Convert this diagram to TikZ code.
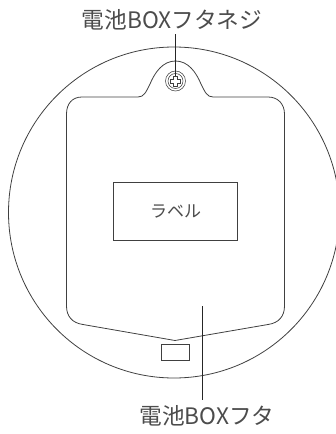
\documentclass[tikz,border=0pt]{standalone}
\usepackage{fontspec}
\setmainfont{Noto Sans CJK JP}
\definecolor{ink}{gray}{0.25}
\definecolor{txt}{gray}{0.3}
\tikzset{
  outline/.style={draw=ink,line width=0.8pt},
  thin outline/.style={draw=ink,line width=0.55pt},
  leader/.style={draw=black!85,line width=0.8pt},
  lbl/.style={inner sep=0pt,text=txt,font=\fontsize{22.7}{22.7}\selectfont},
}
\begin{document}
\begin{tikzpicture}[x=1pt,y=-1pt]
\useasboundingbox (0,0) rectangle (336,434);
\begin{scope}
\clip (0,0) rectangle (336,434);
\draw[outline] (174,212.5) circle[radius=165.5];
\end{scope}
% cover
\draw[outline,line join=round] (82,97) -- (138,97)
  .. controls (144,97) and (146,92) .. (150,84)
  .. controls (155,72) and (163,61) .. (175.5,61)
  .. controls (188,61) and (196,72) .. (201,84)
  .. controls (205,92) and (207,97) .. (213,97)
  -- (268,97)
  .. controls (278,97) and (284.5,104) .. (284.5,114)
  -- (284.5,306)
  .. controls (284.5,316) and (279,323) .. (268,324.5)
  -- (175,340.5) -- (83,324.5)
  .. controls (72,323) and (66.5,316) .. (66.5,306)
  -- (66.5,114)
  .. controls (66.5,104) and (72,97) .. (82,97) -- cycle;
% label box
\node[outline,minimum width=123.5pt,minimum height=58pt,inner sep=0pt,anchor=center] (labelbox) at (175.5,211) {};
\node[lbl,font=\fontsize{17}{17}\selectfont] (labeltext) at (175.5,211) {ラベル};
% tab window
\node[outline,minimum width=28pt,minimum height=16pt,inner sep=0pt] (window) at (175,352) {};
% screw
\node[thin outline,circle,minimum size=20pt,inner sep=0pt] (screw) at (175.5,81) {};
\node[thin outline,circle,minimum size=15pt,inner sep=0pt] (screwin) at (175.5,81) {};
\draw[thin outline] (173.7,75.8) -- (177.3,75.8) -- (177.3,79.2) -- (180.7,79.2) -- (180.7,82.8) -- (177.3,82.8) -- (177.3,86.2) -- (173.7,86.2) -- (173.7,82.8) -- (170.3,82.8) -- (170.3,79.2) -- (173.7,79.2) -- cycle;
% labels
\node[lbl] (top) at (172,20) {電池BOXフタネジ};
\node[lbl] (bottom) at (207,416) {電池BOXフタ};
\coordinate (topstart) at (175.5,34);
\coordinate (topend) at (175.5,76);
\coordinate (botstart) at (202,306);
\coordinate (botend) at (202,400);
\draw[leader] (topstart) -- (topend);
\draw[leader] (botstart) -- (botend);
\end{tikzpicture}
\end{document}
